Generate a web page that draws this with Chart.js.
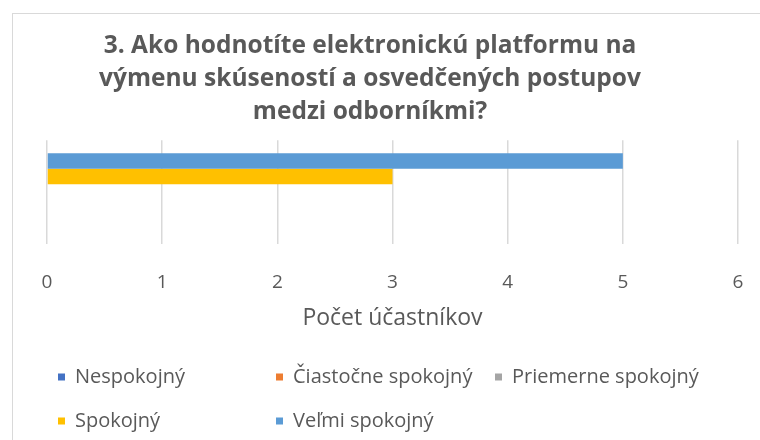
<!DOCTYPE html>
<html>
<head>
<meta charset="utf-8">
<script src="https://cdn.jsdelivr.net/npm/chart.js@4.4.1/dist/chart.umd.min.js"></script>
<style>
  html, body { margin: 0; padding: 0; background: #fff; }
  #wrap { position: relative; width: 760px; height: 440px; overflow: hidden; }
  #frame { position: absolute; left: 12px; top: 13px; width: 800px; height: 500px; border: 1.5px solid #d9d9d9; box-sizing: border-box; }
  #chart { position: absolute; left: 0; top: 0; }
</style>
</head>
<body>
<div id="wrap">
  <div id="frame"></div>
  <canvas id="chart" width="760" height="440"></canvas>
</div>
<script>
// data
const categories = [''];
const seriesNames = ['Nespokojný', 'Čiastočne spokojný', 'Priemerne spokojný', 'Spokojný', 'Veľmi spokojný'];
const seriesValues = [0, 0, 0, 3, 5];
const seriesColors = ['#4472C4', '#ED7D31', '#A5A5A5', '#FFC000', '#5B9BD5'];
const xTicks = [0, 1, 2, 3, 4, 5, 6];

const titleLines = ['3. Ako hodnotíte elektronickú platformu na', 'výmenu skúseností a osvedčených postupov', 'medzi odborníkmi?'];
const axisTitle = 'Počet účastníkov';

const textColor = '#595959';
const fontFamily = "'Open Sans', 'Noto Sans', sans-serif";

// excel draws the first series at the bottom, so feed chart.js in reverse
const datasets = seriesNames.map((name, i) => ({
  label: name,
  data: [seriesValues[i]],
  backgroundColor: seriesColors[i],
  borderWidth: 0,
  categoryPercentage: 0.75,
  barPercentage: 1.0
})).reverse();

// legend laid out in excel-like columns
const excelLegend = {
  id: 'excelLegend',
  afterDraw(chart, args, opts) {
    const ctx = chart.ctx;
    ctx.save();
    ctx.font = '20px ' + fontFamily;
    ctx.textBaseline = 'middle';
    opts.items.forEach((pos, i) => {
      ctx.fillStyle = seriesColors[i];
      ctx.fillRect(pos[0], pos[1] - 3.5, 7, 7);
      ctx.fillStyle = textColor;
      ctx.fillText(seriesNames[i], pos[0] + 17, pos[1]);
    });
    ctx.restore();
  }
};

const ctx = document.getElementById('chart').getContext('2d');
new Chart(ctx, {
  type: 'bar',
  data: { labels: categories, datasets: datasets },
  options: {
    indexAxis: 'y',
    responsive: false,
    animation: false,
    layout: { padding: { left: 2, right: 22, top: 10, bottom: 108 } },
    scales: {
      x: {
        min: 0,
        max: 6,
        afterBuildTicks: (axis) => { axis.ticks = xTicks.map(v => ({ value: v })); },
        afterFit: (scale) => { scale.height = 88; scale.paddingLeft = 0; scale.paddingRight = 0; },
        grid: { color: '#d9d9d9', lineWidth: 1.5, drawTicks: false },
        border: { display: false },
        ticks: { color: textColor, font: { family: fontFamily, size: 19 }, padding: 27 },
        title: { display: true, text: axisTitle, color: textColor, font: { family: fontFamily, size: 23 }, padding: 0 }
      },
      y: {
        afterFit: (scale) => { scale.width = 45; },
        grid: { display: false },
        border: { display: false },
        ticks: { display: false }
      }
    },
    plugins: {
      legend: { display: false },
      tooltip: { enabled: false },
      title: {
        display: true,
        text: titleLines,
        color: textColor,
        font: { family: fontFamily, size: 24.5, weight: 'bold', lineHeight: 1.35 },
        padding: { top: 19, bottom: 12 }
      },
      excelLegend: {
        items: [[58, 377], [276, 377], [495, 377], [58, 421], [276, 421]]
      }
    }
  },
  plugins: [excelLegend]
});
</script>
</body>
</html>
